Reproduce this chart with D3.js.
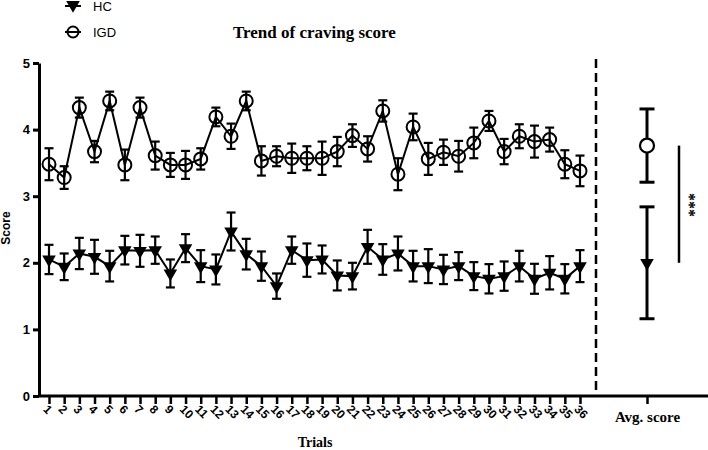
<!DOCTYPE html>
<html>
<head>
<meta charset="utf-8">
<script src="https://cdn.jsdelivr.net/npm/d3@7"></script>
<style>
  body { margin: 0; background: #fff; }
  svg { display: block; }
</style>
</head>
<body>
<div id="chart"></div>
<script>
// Trend of craving score, per trial, HC vs IGD (mean +/- error)
const trials = [1, 2, 3, 4, 5, 6, 7, 8, 9, 10, 11, 12, 13, 14, 15, 16, 17, 18,
  19, 20, 21, 22, 23, 24, 25, 26, 27, 28, 29, 30, 31, 32, 33, 34, 35, 36]

const hcMean = [2.05, 1.94, 2.14, 2.09, 1.95, 2.19, 2.18, 2.19, 1.84, 2.22, 1.95, 1.9,
  2.47, 2.13, 1.95, 1.65, 2.19, 2.04, 2.05, 1.81, 1.8, 2.24, 2.05, 2.14,
  1.95, 1.95, 1.9, 1.95, 1.8, 1.76, 1.8, 1.95, 1.76, 1.85, 1.76, 1.95]
const hcErr = [0.22, 0.2, 0.235, 0.255, 0.23, 0.215, 0.24, 0.205, 0.21, 0.21, 0.24, 0.225,
  0.285, 0.23, 0.22, 0.19, 0.205, 0.25, 0.21, 0.225, 0.2, 0.255, 0.23, 0.255,
  0.23, 0.255, 0.22, 0.21, 0.21, 0.22, 0.22, 0.23, 0.225, 0.25, 0.22, 0.24]

const igdMean = [3.48, 3.28, 4.33, 3.67, 4.43, 3.47, 4.33, 3.61, 3.47, 3.47, 3.56, 4.19,
  3.9, 4.43, 3.53, 3.6, 3.57, 3.57, 3.57, 3.67, 3.91, 3.71, 4.28, 3.33,
  4.04, 3.56, 3.66, 3.6, 3.8, 4.13, 3.67, 3.9, 3.82, 3.85, 3.48, 3.38]
const igdErr = [0.24, 0.17, 0.15, 0.16, 0.14, 0.23, 0.15, 0.21, 0.18, 0.21, 0.16, 0.14,
  0.19, 0.14, 0.22, 0.15, 0.22, 0.18, 0.25, 0.22, 0.17, 0.19, 0.16, 0.24,
  0.2, 0.24, 0.19, 0.23, 0.23, 0.15, 0.19, 0.18, 0.24, 0.18, 0.21, 0.23]

const avgLabel = ['Avg. score']
const avgHC = [2.0, 0.84] // mean, error
const avgIGD = [3.76, 0.55]

const yTicks = [0, 1, 2, 3, 4, 5]

const sans = '"Liberation Sans", Arial, sans-serif'
const serif = '"Liberation Serif", "Times New Roman", serif'

const width = 708,
  height = 450

const svg = d3
  .select('#chart')
  .append('svg')
  .attr('width', width)
  .attr('height', height)

const x = d3.scaleLinear().domain([1, 36]).range([49, 580])
const xAvg = d3.scalePoint().domain(avgLabel).range([596, 698]).padding(0.5)
const y = d3.scaleLinear().domain([0, 5]).range([396, 63])

// y axis
const yAxis = svg
  .append('g')
  .attr('transform', 'translate(39,0)')
  .call(
    d3
      .axisLeft(y)
      .tickValues(yTicks)
      .tickFormat(d3.format('d'))
      .tickSize(6)
      .tickSizeOuter(0)
      .tickPadding(3)
  )
yAxis.select('.domain').attr('stroke-width', 3)
yAxis.selectAll('.tick line').attr('stroke-width', 3)
yAxis
  .selectAll('.tick text')
  .attr('font-family', sans)
  .attr('font-weight', 'bold')
  .attr('font-size', 13)
  .attr('fill', '#000')

// x axis (trials)
svg
  .append('line')
  .attr('x1', 38)
  .attr('x2', width)
  .attr('y1', 396)
  .attr('y2', 396)
  .attr('stroke', '#000')
  .attr('stroke-width', 3)

const xAxis = svg
  .append('g')
  .attr('transform', 'translate(0,396)')
  .call(d3.axisBottom(x).tickValues(trials).tickSize(8).tickFormat(d3.format('d')))
xAxis.select('.domain').remove()
xAxis.selectAll('.tick line').attr('stroke-width', 2.5)
xAxis
  .selectAll('.tick text')
  .attr('font-family', sans)
  .attr('font-weight', 'bold')
  .attr('font-size', 12)
  .attr('fill', '#000')
  .attr('text-anchor', 'start')
  .attr('transform', 'translate(-4,11) rotate(45)')
  .attr('y', 0)
  .attr('dy', '0.35em')

// x axis (average)
const avgAxis = svg
  .append('g')
  .attr('transform', 'translate(0,396)')
  .call(d3.axisBottom(xAvg).tickSize(8).tickPadding(7))
avgAxis.select('.domain').remove()
avgAxis.selectAll('.tick line').attr('stroke-width', 2.5)
avgAxis
  .selectAll('.tick text')
  .attr('font-family', serif)
  .attr('font-weight', 'bold')
  .attr('font-size', 15)
  .attr('fill', '#000')

// axis titles
svg
  .append('text')
  .attr('transform', 'translate(10,228) rotate(-90)')
  .attr('text-anchor', 'middle')
  .attr('font-family', sans)
  .attr('font-weight', 'bold')
  .attr('font-size', 12)
  .text('Score')

svg
  .append('text')
  .attr('x', 315)
  .attr('y', 447)
  .attr('text-anchor', 'middle')
  .attr('font-family', serif)
  .attr('font-weight', 'bold')
  .attr('font-size', 14)
  .text('Trials')

svg
  .append('text')
  .attr('x', 233)
  .attr('y', 38)
  .attr('font-family', serif)
  .attr('font-weight', 'bold')
  .attr('font-size', 17)
  .text('Trend of craving score')

// divider between trials and average
svg
  .append('line')
  .attr('x1', 596)
  .attr('x2', 596)
  .attr('y1', 59)
  .attr('y2', 392)
  .attr('stroke', '#000')
  .attr('stroke-width', 2.5)
  .attr('stroke-dasharray', '9,5')

const triangle = d3.symbol(d3.symbolTriangle, 80)

function drawSeries(means, errs, kind) {
  const g = svg.append('g')
  g.append('path')
    .datum(means)
    .attr('fill', 'none')
    .attr('stroke', '#000')
    .attr('stroke-width', 2)
    .attr('d', d3.line().x((d, i) => x(trials[i])).y((d) => y(d)))

  // error bars
  means.forEach((m, i) => {
    const cx = x(trials[i])
    const top = y(m + errs[i])
    const bot = y(m - errs[i])
    g.append('line').attr('x1', cx).attr('x2', cx).attr('y1', top).attr('y2', bot)
    g.append('line').attr('x1', cx - 4.5).attr('x2', cx + 4.5).attr('y1', top).attr('y2', top)
    g.append('line').attr('x1', cx - 4.5).attr('x2', cx + 4.5).attr('y1', bot).attr('y2', bot)
  })
  g.selectAll('line').attr('stroke', '#000').attr('stroke-width', 2.2)

  if (kind === 'circle') {
    g.selectAll('circle.pt')
      .data(means)
      .enter()
      .append('circle')
      .attr('class', 'pt')
      .attr('cx', (d, i) => x(trials[i]))
      .attr('cy', (d) => y(d))
      .attr('r', 6.5)
      .attr('fill', 'none')
      .attr('stroke', '#000')
      .attr('stroke-width', 2)
  } else {
    g.selectAll('path.pt')
      .data(means)
      .enter()
      .append('path')
      .attr('class', 'pt')
      .attr('d', triangle)
      .attr('transform', (d, i) => `translate(${x(trials[i])},${y(d)}) rotate(180)`)
      .attr('fill', '#000')
  }
}

drawSeries(igdMean, igdErr, 'circle')
drawSeries(hcMean, hcErr, 'triangle')

// averages
const ax = xAvg(avgLabel[0])
function avgBar(v) {
  const top = y(v[0] + v[1])
  const bot = y(v[0] - v[1])
  svg.append('line').attr('x1', ax).attr('x2', ax).attr('y1', top).attr('y2', bot)
    .attr('stroke', '#000').attr('stroke-width', 3)
  ;[top, bot].forEach((yy) => {
    svg.append('line').attr('x1', ax - 7.5).attr('x2', ax + 7.5).attr('y1', yy).attr('y2', yy)
      .attr('stroke', '#000').attr('stroke-width', 3)
  })
}
avgBar(avgIGD)
avgBar(avgHC)
svg
  .append('circle')
  .attr('cx', ax)
  .attr('cy', y(avgIGD[0]))
  .attr('r', 7)
  .attr('fill', '#fff')
  .attr('stroke', '#000')
  .attr('stroke-width', 2.2)
svg
  .append('path')
  .attr('d', triangle)
  .attr('transform', `translate(${ax},${y(avgHC[0])}) rotate(180)`)
  .attr('fill', '#000')

// significance
svg
  .append('line')
  .attr('x1', 679)
  .attr('x2', 679)
  .attr('y1', y(avgIGD[0]))
  .attr('y2', y(avgHC[0]))
  .attr('stroke', '#000')
  .attr('stroke-width', 2.5)
svg
  .append('text')
  .attr('transform', 'translate(684,205) rotate(90)')
  .attr('text-anchor', 'middle')
  .attr('font-family', serif)
  .attr('font-weight', 'bold')
  .attr('font-size', 16)
  .attr('fill', '#000')
  .text('***')

// legend
const legend = [
  { name: 'HC', y: 6 },
  { name: 'IGD', y: 32 },
]
legend.forEach((d) => {
  svg.append('line').attr('x1', 65).attr('x2', 81).attr('y1', d.y).attr('y2', d.y)
    .attr('stroke', '#000').attr('stroke-width', 2)
  svg.append('text')
    .attr('x', 93)
    .attr('y', d.y + 5)
    .attr('font-family', sans)
    .attr('font-size', 13)
    .text(d.name)
})
svg.append('path').attr('d', triangle).attr('transform', 'translate(73,5) rotate(180)').attr('fill', '#000')
svg.append('circle').attr('cx', 73).attr('cy', 32).attr('r', 5.5)
  .attr('fill', 'none').attr('stroke', '#000').attr('stroke-width', 2)
</script>
</body>
</html>
